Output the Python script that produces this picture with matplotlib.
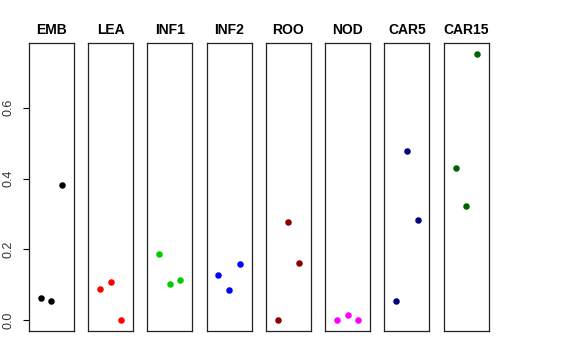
import matplotlib
matplotlib.use("Agg")
import matplotlib.pyplot as plt

plt.rcParams['font.family'] = ['Liberation Sans', 'DejaVu Sans']

# one panel per tissue, three replicate values each
tissues = ['EMB', 'LEA', 'INF1', 'INF2', 'ROO', 'NOD', 'CAR5', 'CAR15']
colors = ['black', 'red', '#00CD00', 'blue', '#8B0000', 'magenta', '#000080', '#006400']
rep = [1, 2, 3]
values = [
    [0.064, 0.055, 0.381],
    [0.089, 0.107, 0.0],
    [0.187, 0.103, 0.113],
    [0.127, 0.085, 0.158],
    [0.0, 0.279, 0.162],
    [0.0, 0.016, 0.0],
    [0.056, 0.477, 0.284],
    [0.430, 0.324, 0.752],
]
yticks = [0.0, 0.2, 0.4, 0.6]

W, H = 576, 360
fig = plt.figure(figsize=(W / 100, H / 100), dpi=100)

ymax = max(max(v) for v in values)
ymin = min(min(v) for v in values)
pad = (ymax - ymin) * 0.04

left0 = 28.7
pitch = 59.3
pw = 45.0
top, bottom = 43.3, 331.0

for i, (name, col, vals) in enumerate(zip(tissues, colors, values)):
    x0 = left0 + i * pitch
    ax = fig.add_axes([x0 / W, (H - bottom) / H, pw / W, (bottom - top) / H])
    ax.scatter(rep, vals, s=22, color=col, zorder=3, linewidths=0)
    ax.set_xlim(-0.12, 4.12)
    ax.set_ylim(ymin - pad, ymax + pad)
    ax.set_xticks([])
    for sp in ax.spines.values():
        sp.set_linewidth(0.9)
        sp.set_color('#222222')
    ax.set_title(name, fontsize=10, fontweight='bold', pad=7)
    if i == 0:
        ax.set_yticks(yticks)
        ax.set_yticklabels(['%.1f' % t for t in yticks], rotation=90,
                           va='center', fontsize=9, color='#333333')
        ax.tick_params(axis='y', length=4, width=0.8, pad=6)
    else:
        ax.set_yticks([])

fig.savefig('out.png', dpi=100)
